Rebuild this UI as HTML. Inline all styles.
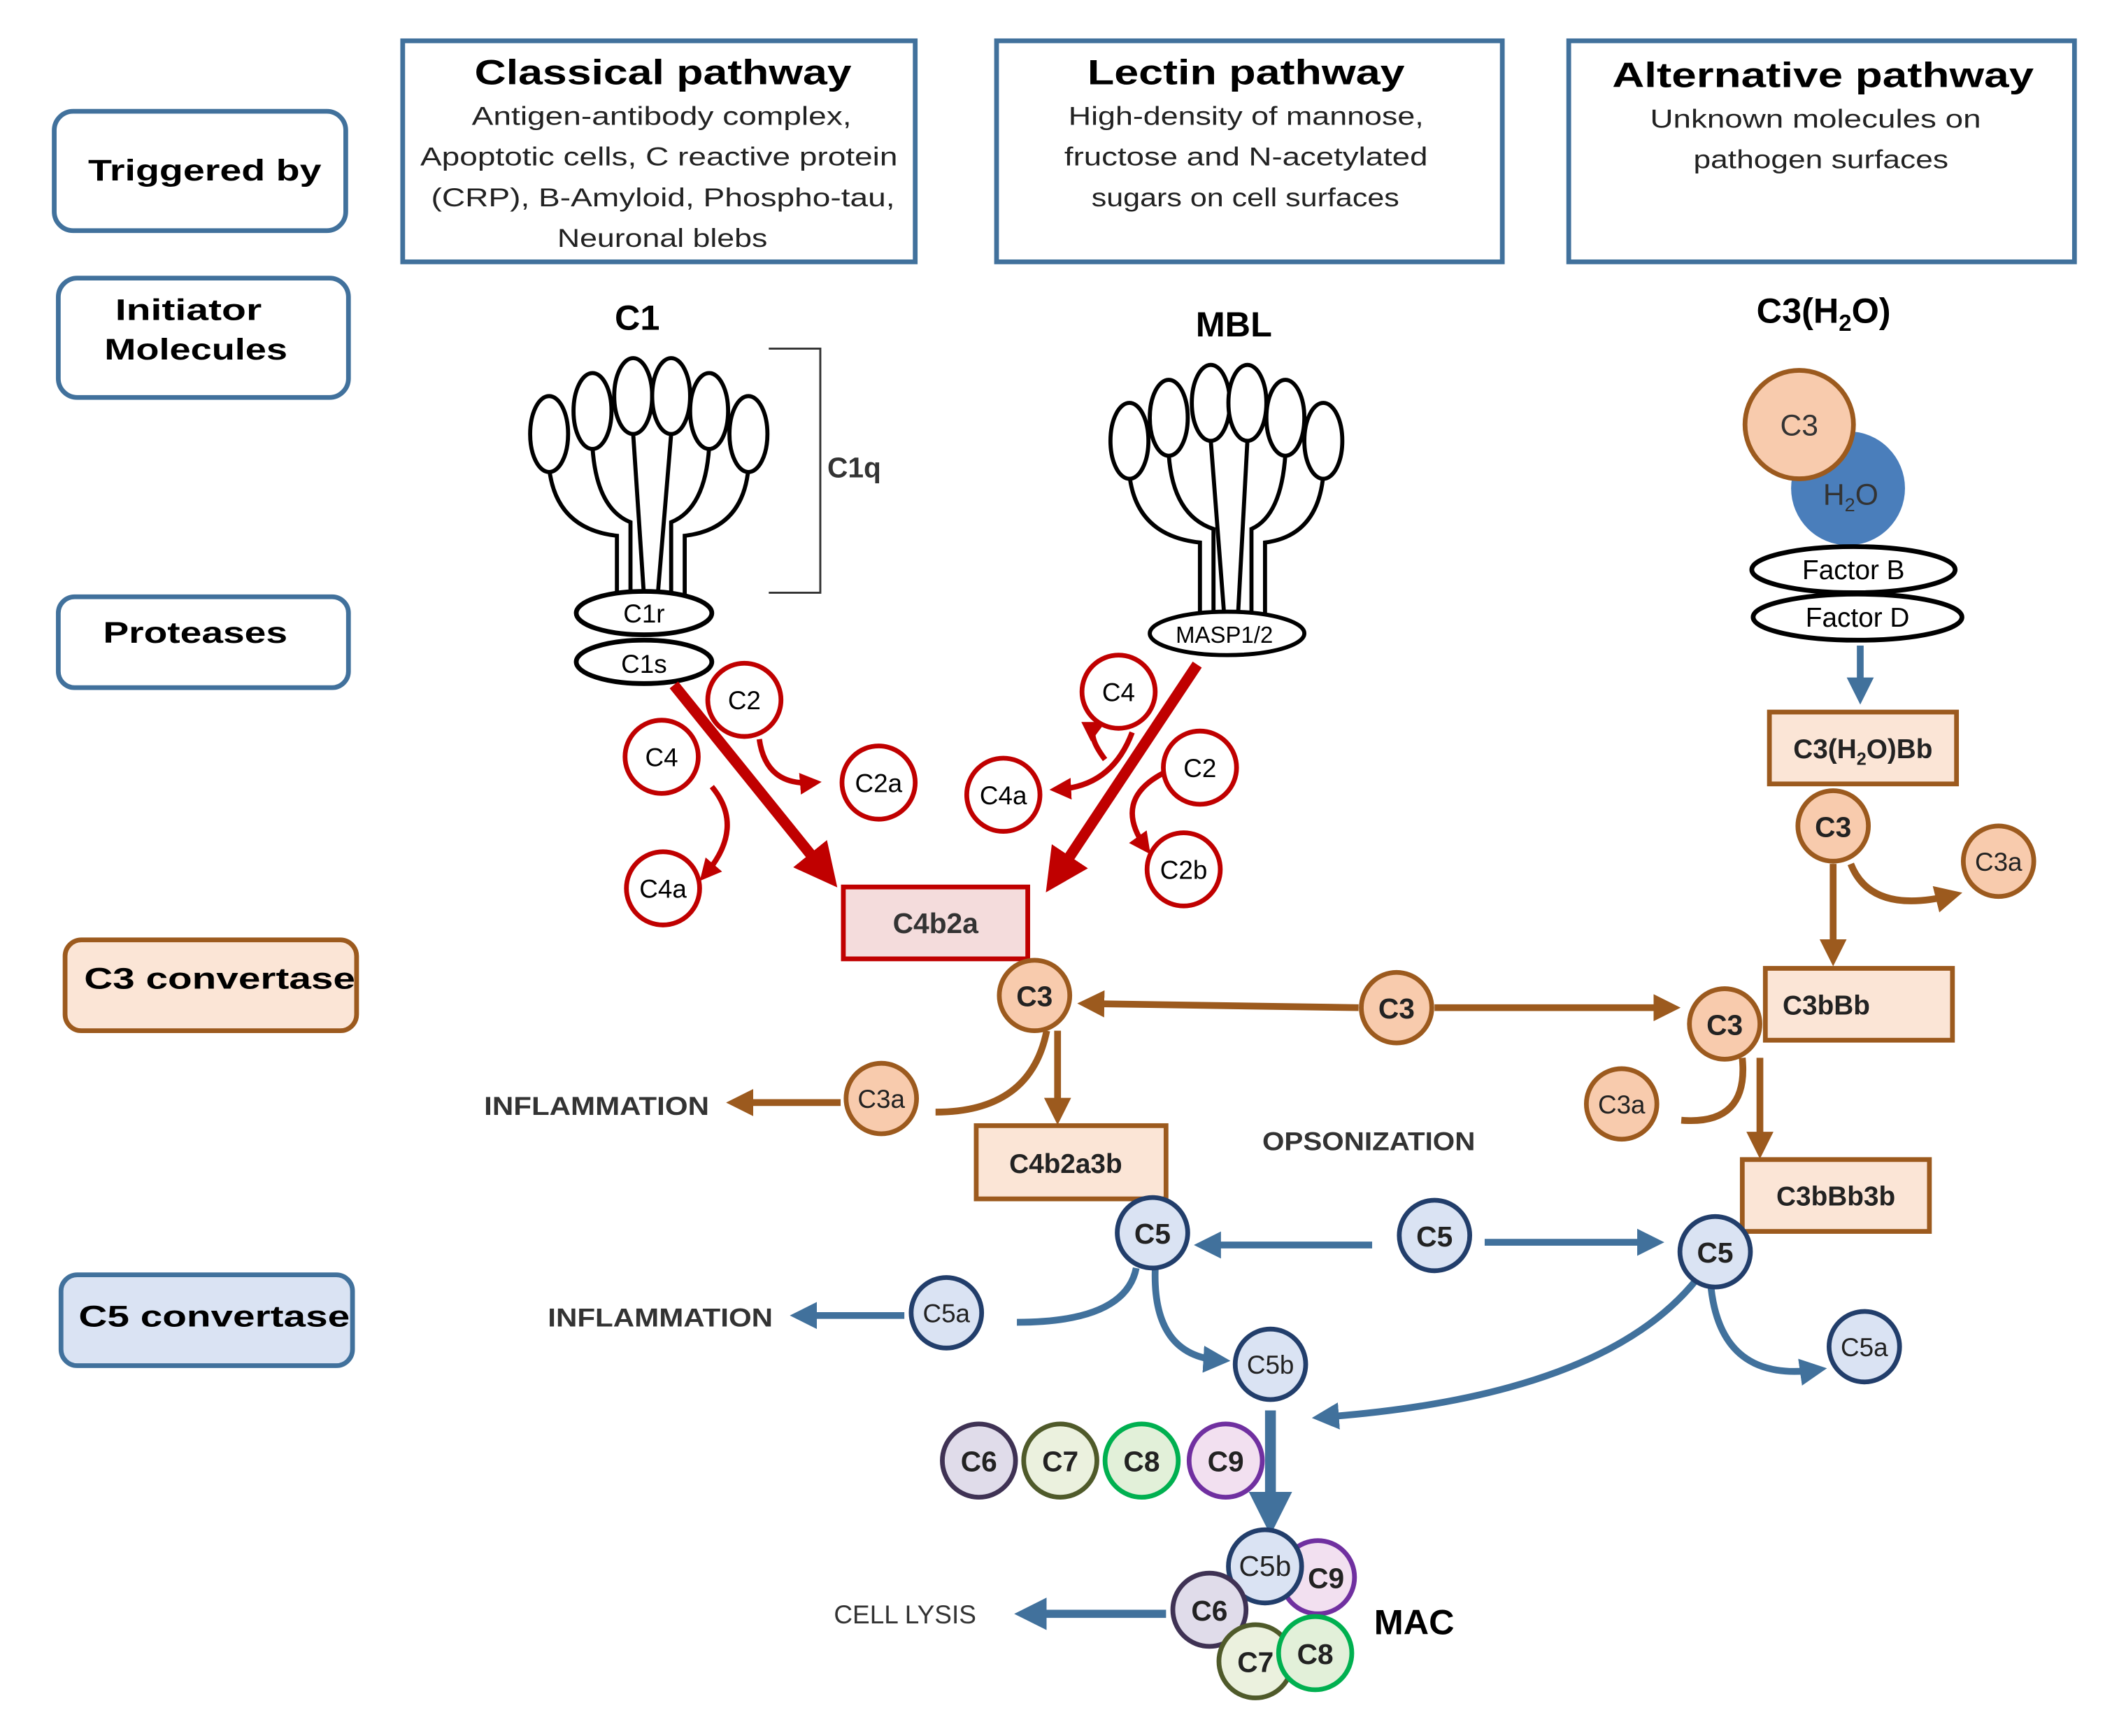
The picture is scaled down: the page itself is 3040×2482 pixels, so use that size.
<!DOCTYPE html>
<html><head><meta charset="utf-8"><style>
html,body{margin:0;padding:0;background:#fff;}
svg{display:block;}
text{font-family:"Liberation Sans",sans-serif;}
</style></head><body>
<svg width="3040" height="2482" viewBox="0 0 1568 1280" xmlns="http://www.w3.org/2000/svg">
<defs>
<marker id="ar" markerWidth="4" markerHeight="4" refX="2.5" refY="2" orient="auto" markerUnits="strokeWidth"><path d="M0,0 L4,2 L0,4 z" fill="#c00000"/></marker>
<marker id="ao" markerWidth="4" markerHeight="4" refX="2.5" refY="2" orient="auto" markerUnits="strokeWidth"><path d="M0,0 L4,2 L0,4 z" fill="#9c5a1e"/></marker>
<marker id="ab" markerWidth="4" markerHeight="4" refX="2.5" refY="2" orient="auto" markerUnits="strokeWidth"><path d="M0,0 L4,2 L0,4 z" fill="#41719c"/></marker>
</defs>
<rect width="1568" height="1280" fill="#fff"/>

<!-- left labels -->
<g stroke-width="3.5" font-weight="bold" font-size="22">
<rect x="40" y="82" width="215" height="88" rx="14" fill="#fff" stroke="#41719c"/>
<text x="65" y="133" stroke="none" textLength="172" lengthAdjust="spacingAndGlyphs">Triggered by</text>
<rect x="43" y="205" width="214" height="88" rx="14" fill="#fff" stroke="#41719c"/>
<text x="85" y="236" stroke="none" textLength="108" lengthAdjust="spacingAndGlyphs">Initiator</text>
<text x="77" y="265" stroke="none" textLength="135" lengthAdjust="spacingAndGlyphs">Molecules</text>
<rect x="43" y="440" width="214" height="67" rx="12" fill="#fff" stroke="#41719c"/>
<text x="76" y="474" stroke="none" textLength="136" lengthAdjust="spacingAndGlyphs">Proteases</text>
<rect x="48" y="693" width="215" height="67" rx="12" fill="#fbe5d6" stroke="#9c5a1e"/>
<text x="62" y="729" stroke="none" textLength="200" lengthAdjust="spacingAndGlyphs">C3 convertase</text>
<rect x="45" y="940" width="215" height="67" rx="12" fill="#dae3f3" stroke="#41719c"/>
<text x="58" y="978" stroke="none" textLength="200" lengthAdjust="spacingAndGlyphs">C5 convertase</text>
</g>

<!-- pathway boxes -->
<g fill="#fff" stroke="#41719c" stroke-width="3.5">
<rect x="297" y="30" width="378" height="163"/>
<rect x="735" y="30" width="373" height="163"/>
<rect x="1157" y="30" width="373" height="163"/>
</g>
<g font-size="19" fill="#222" lengthAdjust="spacingAndGlyphs">
<text x="350" y="62" font-size="26" font-weight="bold" fill="#000" textLength="278" lengthAdjust="spacingAndGlyphs">Classical pathway</text>
<text x="348" y="92" textLength="280" lengthAdjust="spacingAndGlyphs">Antigen-antibody complex,</text>
<text x="310" y="122" textLength="352" lengthAdjust="spacingAndGlyphs">Apoptotic cells, C reactive protein</text>
<text x="318" y="152" textLength="342" lengthAdjust="spacingAndGlyphs">(CRP), B-Amyloid,  Phospho-tau,</text>
<text x="411" y="182" textLength="155" lengthAdjust="spacingAndGlyphs">Neuronal blebs</text>
<text x="802" y="62" font-size="26" font-weight="bold" fill="#000" textLength="234" lengthAdjust="spacingAndGlyphs">Lectin pathway</text>
<text x="788" y="92" textLength="262" lengthAdjust="spacingAndGlyphs">High-density of mannose,</text>
<text x="785" y="122" textLength="268" lengthAdjust="spacingAndGlyphs">fructose and N-acetylated</text>
<text x="805" y="152" textLength="227" lengthAdjust="spacingAndGlyphs">sugars on cell surfaces</text>
<text x="1189" y="64" font-size="26" font-weight="bold" fill="#000" textLength="311" lengthAdjust="spacingAndGlyphs">Alternative pathway</text>
<text x="1217" y="94" textLength="244" lengthAdjust="spacingAndGlyphs">Unknown molecules on</text>
<text x="1249" y="124" textLength="188" lengthAdjust="spacingAndGlyphs">pathogen surfaces</text>
</g>

<g font-weight="bold" font-size="26" text-anchor="middle">
<text x="470" y="243">C1</text>
<text x="910" y="248">MBL</text>
<text x="1345" y="238">C3(H<tspan font-size="17" dy="6">2</tspan><tspan dy="-6">O)</tspan></text>
</g>

<!-- C1q -->
<g fill="none" stroke="#000" stroke-width="3">
<path d="M405,345 Q410,390 455,395 L455,440"/>
<path d="M437,330 Q440,375 465,385 L465,440"/>
<path d="M467,320 L475,440"/>
<path d="M495,320 L485,440"/>
<path d="M523,330 Q520,375 495,385 L495,440"/>
<path d="M552,345 Q548,390 505,395 L505,440"/>
</g>
<g fill="#fff" stroke="#000" stroke-width="3">
<ellipse cx="405" cy="320" rx="14" ry="28"/>
<ellipse cx="437" cy="303" rx="14" ry="28"/>
<ellipse cx="467" cy="292" rx="14" ry="28"/>
<ellipse cx="495" cy="292" rx="14" ry="28"/>
<ellipse cx="523" cy="303" rx="14" ry="28"/>
<ellipse cx="552" cy="320" rx="14" ry="28"/>
</g>
<path d="M567,257 L605,257 L605,437 L567,437" fill="none" stroke="#333" stroke-width="1.5"/>
<text x="630" y="352" font-size="21" font-weight="bold" text-anchor="middle" fill="#333">C1q</text>
<g fill="#fff" stroke="#000" stroke-width="3.5">
<ellipse cx="475" cy="452" rx="50" ry="16"/>
<ellipse cx="475" cy="488" rx="50" ry="16"/>
</g>
<g font-size="19" text-anchor="middle"><text x="475" y="459">C1r</text><text x="475" y="496">C1s</text></g>

<!-- MBL -->
<g fill="none" stroke="#000" stroke-width="3">
<path d="M833,350 Q838,395 885,400 L885,455"/>
<path d="M862,335 Q865,380 895,390 L895,455"/>
<path d="M893,325 L903,455"/>
<path d="M920,325 L913,455"/>
<path d="M948,335 Q945,380 923,390 L923,455"/>
<path d="M976,350 Q972,395 933,400 L933,455"/>
</g>
<g fill="#fff" stroke="#000" stroke-width="3">
<ellipse cx="833" cy="325" rx="14" ry="28"/>
<ellipse cx="862" cy="308" rx="14" ry="28"/>
<ellipse cx="893" cy="297" rx="14" ry="28"/>
<ellipse cx="920" cy="297" rx="14" ry="28"/>
<ellipse cx="948" cy="308" rx="14" ry="28"/>
<ellipse cx="976" cy="325" rx="14" ry="28"/>
<ellipse cx="905" cy="467" rx="57" ry="16"/>
</g>
<text x="903" y="474" font-size="17" text-anchor="middle">MASP1/2</text>

<!-- Alternative top -->
<circle cx="1363" cy="360" r="42" fill="#4a7ebb"/>
<circle cx="1327" cy="313" r="40" fill="#f8cbad" stroke="#9c5a1e" stroke-width="3.5"/>
<text x="1327" y="321" font-size="22" text-anchor="middle" fill="#333">C3</text>
<text x="1365" y="372" font-size="22" text-anchor="middle" fill="#333">H<tspan font-size="14" dy="5">2</tspan><tspan dy="-5">O</tspan></text>
<g fill="#fff" stroke="#000" stroke-width="3.5">
<ellipse cx="1367" cy="420" rx="75" ry="17"/>
<ellipse cx="1370" cy="455" rx="77" ry="17"/>
</g>
<g font-size="20" text-anchor="middle"><text x="1367" y="427">Factor B</text><text x="1370" y="462">Factor D</text></g>
<line x1="1372" y1="476" x2="1372" y2="512" stroke="#41719c" stroke-width="5" marker-end="url(#ab)"/>

<!-- red arrows -->
<g stroke="#c00000" fill="none">
<line x1="497" y1="505" x2="610" y2="645" stroke-width="8" marker-end="url(#ar)"/>
<line x1="883" y1="490" x2="778" y2="648" stroke-width="8" marker-end="url(#ar)"/>
<path d="M560,545 Q565,580 600,577" stroke-width="4" marker-end="url(#ar)"/>
<path d="M525,580 Q550,610 520,645" stroke-width="4" marker-end="url(#ar)"/>
<path d="M835,540 Q820,580 780,582" stroke-width="4" marker-end="url(#ar)"/>
<path d="M858,570 Q820,590 845,625" stroke-width="4" marker-end="url(#ar)"/>
<path d="M815,560 Q800,540 810,535" stroke-width="4" marker-end="url(#ar)"/>
</g>
<g fill="#fff" stroke="#c00000" stroke-width="3.5">
<circle cx="549" cy="516" r="27"/><circle cx="648" cy="577" r="27"/>
<circle cx="488" cy="558" r="27"/><circle cx="489" cy="655" r="27"/>
<circle cx="825" cy="510" r="27"/><circle cx="740" cy="586" r="27"/>
<circle cx="885" cy="566" r="27"/><circle cx="873" cy="641" r="27"/>
</g>
<g font-size="19" text-anchor="middle">
<text x="549" y="523">C2</text><text x="648" y="584">C2a</text>
<text x="488" y="565">C4</text><text x="489" y="662">C4a</text>
<text x="825" y="517">C4</text><text x="740" y="593">C4a</text>
<text x="885" y="573">C2</text><text x="873" y="648">C2b</text>
</g>
<rect x="622" y="654" width="136" height="53" fill="#f4dcdc" stroke="#c00000" stroke-width="3.5"/>
<text x="690" y="688" font-size="21" font-weight="bold" text-anchor="middle" fill="#333">C4b2a</text>

<!-- orange arrows -->
<g stroke="#9c5a1e" fill="none" stroke-width="5">
<line x1="1002" y1="743" x2="802" y2="740" marker-end="url(#ao)"/>
<line x1="1058" y1="743" x2="1232" y2="743" marker-end="url(#ao)"/>
<line x1="1352" y1="637" x2="1352" y2="705" marker-end="url(#ao)"/>
<path d="M1365,637 Q1380,675 1440,660" marker-end="url(#ao)"/>
<line x1="780" y1="760" x2="780" y2="822" marker-end="url(#ao)"/>
<path d="M772,760 Q760,820 690,820" />
<line x1="620" y1="813" x2="543" y2="813" marker-end="url(#ao)"/>
<line x1="1298" y1="780" x2="1298" y2="847" marker-end="url(#ao)"/>
<path d="M1285,780 Q1290,830 1240,826" />
</g>
<g fill="#f8cbad" stroke="#9c5a1e" stroke-width="3.5">
<circle cx="763" cy="734" r="26"/><circle cx="1030" cy="743" r="26"/>
<circle cx="1272" cy="755" r="26"/><circle cx="1352" cy="609" r="26"/>
<circle cx="1474" cy="635" r="26"/><circle cx="650" cy="810" r="26"/>
<circle cx="1196" cy="814" r="26"/>
</g>
<g font-size="21" text-anchor="middle" font-weight="bold" fill="#222">
<text x="763" y="742">C3</text><text x="1030" y="751">C3</text>
<text x="1272" y="763">C3</text><text x="1352" y="617">C3</text>
</g>
<g font-size="19" text-anchor="middle" fill="#222">
<text x="1474" y="642">C3a</text><text x="650" y="817">C3a</text><text x="1196" y="821">C3a</text>
</g>
<g fill="#fbe5d6" stroke="#9c5a1e" stroke-width="3.5">
<rect x="1305" y="525" width="138" height="53"/>
<rect x="1302" y="714" width="138" height="53"/>
<rect x="720" y="830" width="140" height="54"/>
<rect x="1285" y="855" width="138" height="53"/>
</g>
<g font-size="20" font-weight="bold" text-anchor="middle" fill="#222">
<text x="1374" y="559">C3(H<tspan font-size="13" dy="5">2</tspan><tspan dy="-5">O)Bb</tspan></text>
<text x="1347" y="748">C3bBb</text>
<text x="786" y="865">C4b2a3b</text>
<text x="1354" y="889">C3bBb3b</text>
</g>
<g font-size="19" font-weight="bold" fill="#333">
<text x="357" y="822" textLength="166" lengthAdjust="spacingAndGlyphs">INFLAMMATION</text>
<text x="931" y="848" textLength="157" lengthAdjust="spacingAndGlyphs">OPSONIZATION</text>
<text x="404" y="978" textLength="166" lengthAdjust="spacingAndGlyphs">INFLAMMATION</text>
<text x="615" y="1197" font-weight="normal" textLength="105" lengthAdjust="spacingAndGlyphs">CELL LYSIS</text>
</g>

<!-- blue arrows -->
<g stroke="#41719c" fill="none" stroke-width="5">
<line x1="1012" y1="918" x2="888" y2="918" marker-end="url(#ab)"/>
<line x1="1095" y1="916" x2="1220" y2="916" marker-end="url(#ab)"/>
<path d="M838,935 Q830,975 750,975"/>
<line x1="667" y1="970" x2="590" y2="970" marker-end="url(#ab)"/>
<path d="M852,936 Q850,1000 900,1003" marker-end="url(#ab)"/>
<path d="M1250,945 Q1180,1030 975,1045" marker-end="url(#ab)"/>
<path d="M1262,950 Q1270,1020 1340,1010" marker-end="url(#ab)"/>
<line x1="937" y1="1040" x2="937" y2="1120" stroke-width="8" marker-end="url(#ab)"/>
<line x1="860" y1="1190" x2="757" y2="1190" stroke-width="6" marker-end="url(#ab)"/>
</g>
<g fill="#dae3f3" stroke="#223e6b" stroke-width="3.5">
<circle cx="850" cy="909" r="26"/><circle cx="1058" cy="911" r="26"/>
<circle cx="1265" cy="923" r="26"/><circle cx="698" cy="968" r="26"/>
<circle cx="1375" cy="993" r="26"/><circle cx="937" cy="1006" r="26"/>
</g>
<g font-size="21" text-anchor="middle" font-weight="bold" fill="#222">
<text x="850" y="917">C5</text><text x="1058" y="919">C5</text><text x="1265" y="931">C5</text>
</g>
<g font-size="19" text-anchor="middle" fill="#222">
<text x="698" y="975">C5a</text><text x="1375" y="1000">C5a</text><text x="937" y="1013">C5b</text>
</g>

<!-- C6-C9 row -->
<g stroke-width="3.5">
<circle cx="722" cy="1077" r="27" fill="#e0dcea" stroke="#3f3254"/>
<circle cx="782" cy="1077" r="27" fill="#ebf1de" stroke="#4f5a2a"/>
<circle cx="842" cy="1077" r="27" fill="#e2f0d9" stroke="#00b050"/>
<circle cx="904" cy="1077" r="27" fill="#f2e0f0" stroke="#7030a0"/>
</g>
<g font-size="21" text-anchor="middle" font-weight="bold" fill="#222">
<text x="722" y="1085">C6</text><text x="782" y="1085">C7</text><text x="842" y="1085">C8</text><text x="904" y="1085">C9</text>
</g>

<!-- MAC -->
<g stroke-width="3.5">
<circle cx="972" cy="1163" r="27" fill="#f2e0f0" stroke="#7030a0"/>
<circle cx="933" cy="1155" r="27" fill="#dae3f3" stroke="#223e6b"/>
<circle cx="892" cy="1187" r="27" fill="#e0dcea" stroke="#3f3254"/>
<circle cx="926" cy="1225" r="27" fill="#ebf1de" stroke="#4f5a2a"/>
<circle cx="970" cy="1219" r="27" fill="#e2f0d9" stroke="#00b050"/>
</g>
<g font-size="21" text-anchor="middle" font-weight="bold" fill="#222">
<text x="978" y="1171">C9</text><text x="933" y="1162" font-weight="normal">C5b</text>
<text x="892" y="1195">C6</text><text x="926" y="1233">C7</text><text x="970" y="1227">C8</text>
</g>
<text x="1043" y="1205" font-size="26" font-weight="bold" text-anchor="middle">MAC</text>
</svg>
</body></html>
